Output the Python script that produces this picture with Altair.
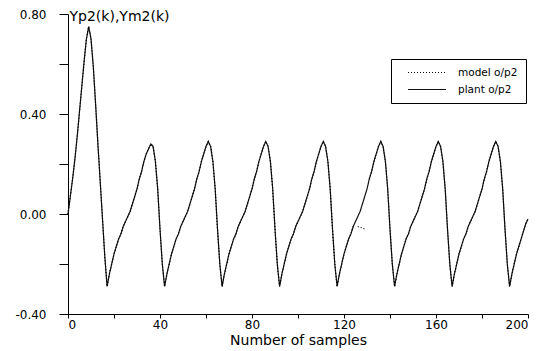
import altair as alt
import pandas as pd

# ---- data ----
samples = list(range(201))

start_0_17 = [0.00, 0.07, 0.14, 0.22, 0.31, 0.41, 0.51, 0.61, 0.70, 0.75,
              0.70, 0.59, 0.44, 0.28, 0.13, -0.02, -0.17, -0.29]
cyc_18_42 = [-0.24, -0.20, -0.16, -0.13, -0.10, -0.08, -0.05, -0.03, -0.01, 0.01,
             0.04, 0.07, 0.10, 0.14, 0.17, 0.21, 0.24, 0.26, 0.28, 0.27,
             0.21, 0.10, -0.06, -0.20, -0.29]
cyc_43_67 = [-0.24, -0.20, -0.16, -0.13, -0.10, -0.08, -0.05, -0.03, -0.01, 0.01,
             0.04, 0.07, 0.10, 0.14, 0.17, 0.21, 0.24, 0.27, 0.29, 0.27,
             0.21, 0.10, -0.06, -0.20, -0.29]
cyc_68_92 = [-0.24, -0.20, -0.16, -0.13, -0.10, -0.08, -0.05, -0.03, -0.01, 0.01,
             0.04, 0.07, 0.10, 0.14, 0.17, 0.21, 0.24, 0.27, 0.29, 0.27,
             0.21, 0.10, -0.06, -0.20, -0.29]
cyc_93_117 = [-0.24, -0.20, -0.16, -0.13, -0.10, -0.08, -0.05, -0.03, -0.01, 0.01,
              0.04, 0.07, 0.10, 0.14, 0.17, 0.21, 0.24, 0.27, 0.29, 0.27,
              0.21, 0.10, -0.06, -0.20, -0.29]
cyc_118_142 = [-0.24, -0.20, -0.16, -0.13, -0.10, -0.08, -0.05, -0.03, -0.01, 0.01,
               0.04, 0.07, 0.10, 0.14, 0.17, 0.21, 0.24, 0.27, 0.29, 0.27,
               0.21, 0.10, -0.06, -0.20, -0.29]
cyc_143_167 = [-0.24, -0.20, -0.16, -0.13, -0.10, -0.08, -0.05, -0.03, -0.01, 0.01,
               0.04, 0.07, 0.10, 0.14, 0.17, 0.21, 0.24, 0.27, 0.29, 0.27,
               0.21, 0.10, -0.06, -0.20, -0.29]
cyc_168_192 = [-0.24, -0.20, -0.16, -0.13, -0.10, -0.08, -0.05, -0.03, -0.01, 0.01,
               0.04, 0.07, 0.10, 0.14, 0.17, 0.21, 0.24, 0.27, 0.29, 0.27,
               0.21, 0.10, -0.06, -0.20, -0.29]
end_193_200 = [-0.24, -0.20, -0.16, -0.13, -0.10, -0.07, -0.04, -0.02]

plant_op2 = (start_0_17 + cyc_18_42 + cyc_43_67 + cyc_68_92 + cyc_93_117
             + cyc_118_142 + cyc_143_167 + cyc_168_192 + end_193_200)

# model output lies under the plant curve except a short stray near k = 126..129
model_stray = {125: None, 126: -0.05, 127: -0.053, 128: -0.056, 129: -0.06, 130: None}
model_op2 = [model_stray.get(i, v) if i in model_stray else v
             for i, v in zip(samples, plant_op2)]

series_names = ["model o/p2", "plant o/p2"]

df = pd.concat([
    pd.DataFrame({"k": samples, "y": plant_op2, "series": series_names[1]}),
    pd.DataFrame({"k": samples, "y": model_op2, "series": series_names[0]}),
])

x_ticks = list(range(0, 201, 20))
y_ticks = [-0.4, -0.2, 0.0, 0.2, 0.4, 0.6, 0.8]

FONT = "DejaVu Sans"
NB = "\u00a0"

chart = alt.Chart(df).mark_line(strokeWidth=1.2).encode(
    x=alt.X("k:Q",
            scale=alt.Scale(domain=[0, 200], nice=False, zero=False),
            axis=alt.Axis(values=x_ticks, format="d", grid=False,
                          labelExpr="datum.value % 40 == 0 ? datum.label : ''",
                          labelFont=FONT, labelFontSize=12, labelColor="black",
                          domainColor="black", tickColor="black",
                          tickSize=4, labelPadding=1,
                          title="Number of samples", titleFontSize=14,
                          titleFontWeight="normal", titlePadding=3,
                          titleFont=FONT, titleColor="black")),
    y=alt.Y("y:Q",
            scale=alt.Scale(domain=[-0.4, 0.8], nice=False, zero=False),
            axis=alt.Axis(values=y_ticks, grid=False,
                          labelExpr="abs(round(datum.value*10)) % 4 == 0 ? replace(format(datum.value, '.2f'), '\u2212', '-') : ''",
                          labelFont=FONT, labelFontSize=12, labelColor="black",
                          domainColor="black", tickColor="black",
                          tickSize=9, labelPadding=13,
                          title="Yp2(k),Ym2(k)", titleAngle=0, titleAlign="left",
                          titleBaseline="alphabetic", titleX=1, titleY=6,
                          titleFontSize=14, titleFontWeight="normal",
                          titleFont=FONT, titleColor="black")),
    color=alt.Color("series:N",
                    scale=alt.Scale(domain=series_names, range=["black", "#111111"]),
                    legend=alt.Legend(title=None, orient="none", legendX=323, legendY=45,
                                      strokeColor="black", fillColor="white",
                                      padding=8, symbolType="M-4,0L4,0", symbolSize=90,
                                      symbolStrokeWidth=1.2, symbolOffset=22.5,
                                      labelFont=FONT, labelFontSize=10.5,
                                      labelColor="black", labelOffset=25.5,
                                      labelExpr=f"datum.label + '{NB}{NB}{NB}'",
                                      rowPadding=6)),
    strokeDash=alt.StrokeDash("series:N",
                              scale=alt.Scale(domain=series_names, range=[[1, 2], [1, 0]]),
                              legend=None),
).properties(
    width=460, height=300,
    background="white",
    autosize=alt.AutoSizeParams(type="none"),
    padding={"left": 68, "top": 14, "right": 14, "bottom": 37},
).configure_view(
    stroke=None
)

chart.save("out.html", embed_options={"renderer": "svg", "actions": False})
